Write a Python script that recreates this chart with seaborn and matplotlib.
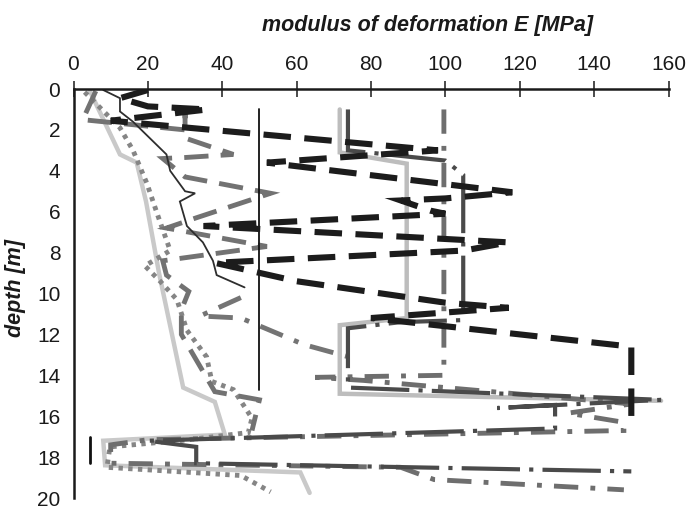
import matplotlib
matplotlib.use("Agg")
import matplotlib.pyplot as plt
import seaborn as sns

# values: E [MPa] vs depth [m]
thin_black_E = [8, 12.5, 12.5, 16, 20.5, 25, 26, 30, 32.7, 28.6, 30.5, 34.8, 37.5, 38.5, 46]
thin_black_d = [0.05, 0.45, 1.1, 1.6, 2.4, 3.2, 4.0, 5.0, 5.1, 5.5, 6.7, 7.5, 8.4, 9.1, 9.7]

light_left_E = [4.4, 12.5, 17, 19.5, 23, 29.5, 38, 40.7, 8, 8.5, 61, 63.5]
light_left_d = [0.1, 3.2, 3.6, 5.5, 9.0, 14.6, 15.3, 16.9, 17.2, 18.4, 18.75, 19.75]

dotted_E = [3, 12.5, 16, 19.7, 22.7, 26, 19.2, 23.3, 27.8, 30.5, 35.8, 37.2, 43, 48, 47, 31, 9.8, 9, 45, 53]
dotted_d = [0.15, 1.9, 3.0, 4.6, 6.2, 7.9, 8.65, 9.4, 10.3, 11.8, 13.1, 14.3, 14.7, 16.1, 16.8, 17.15, 17.5, 18.5, 18.9, 19.7]

vline_E = [50, 50]
vline_d = [1.0, 14.7]
short_E = [4.4, 4.4]
short_d = [17.0, 18.3]

black_E = [20, 12.5, 20, 36, 10, 98, 52, 118, 100, 88, 96, 100, 35, 117, 105, 38, 60, 100, 117, 80, 150, 150]
black_d = [0.05, 0.45, 0.85, 1.0, 1.55, 3.0, 3.6, 5.05, 5.35, 5.45, 5.95, 6.1, 6.7, 7.5, 7.9, 8.5, 9.4, 10.45, 10.7, 11.2, 12.6, 16.5]

light_right_E = [71.6, 71.6, 89.6, 89.6, 71.6, 71.6, 158]
light_right_d = [1.0, 3.1, 3.65, 11.2, 11.55, 14.9, 15.25]

dark_E = [73.8, 73.8, 100, 104.8, 104.8, 88, 73.8, 73.8, 158, 114, 129.5, 129.5, 20, 33, 33, 150]
dark_d = [1.0, 3.0, 3.5, 4.2, 11.3, 11.4, 11.7, 14.6, 15.2, 15.6, 15.45, 16.6, 17.2, 17.5, 18.3, 18.7]

gray_left_E = [6, 2.5, 30, 30, 30, 43, 30, 24, 30, 53, 33, 25, 52, 24, 25, 31, 29, 29, 38, 50, 48]
gray_left_d = [0.1, 1.5, 2.0, 1.1, 2.4, 3.2, 3.35, 3.4, 4.3, 5.1, 6.3, 6.8, 7.7, 8.4, 9.1, 9.9, 10.8, 12.0, 14.8, 15.2, 16.7]

dashdot_mid_E = [45, 34, 45, 62, 74]
dashdot_mid_d = [10.2, 11.1, 11.2, 12.5, 13.1]

dashdot_right_E = [99.6, 99.6, 65, 78, 150, 133, 148, 148, 20, 10, 10, 88, 97, 148]
dashdot_right_d = [1.0, 14.0, 14.1, 14.25, 15.4, 15.85, 16.3, 16.7, 17.15, 17.4, 18.3, 18.5, 19.1, 19.6]

sns.set_style("white")
plt.rcParams["font.family"] = ["Liberation Sans", "DejaVu Sans"]

fig = plt.figure(figsize=(6.89, 5.11), dpi=100)
ax = fig.add_axes([73.5 / 689, 1 - 498 / 511, 595 / 689, 409 / 511])


def draw(e, d, color, lw, ls="-"):
    sns.lineplot(x=e, y=d, sort=False, estimator=None, color=color,
                 linewidth=lw, linestyle=ls, ax=ax)
    ln = ax.lines[-1]
    ln.set_solid_joinstyle("miter")
    ln.set_dash_joinstyle("miter")
    ln.set_dash_capstyle("butt")


draw(light_left_E, light_left_d, "#c9c9c9", 3.2)
draw(light_right_E, light_right_d, "#bdbdbd", 3.2)
draw(dotted_E, dotted_d, "#858585", 3.5, (0, (0.9, 1.1)))
draw(gray_left_E, gray_left_d, "#727272", 3.5, (0, (5, 2.5)))
draw(dashdot_mid_E, dashdot_mid_d, "#747474", 3.5, (0, (5, 2.5, 1, 2.5)))
draw(dashdot_right_E, dashdot_right_d, "#6e6e6e", 3.5, (0, (5, 2.5, 1, 2.5)))
draw(dark_E, dark_d, "#4a4a4a", 3.0, (0, (14, 2.2, 1, 2.2)))
draw(thin_black_E, thin_black_d, "#2e2e2e", 1.3)
draw(vline_E, vline_d, "#111111", 1.3)
draw(short_E, short_d, "#111111", 2.0)
draw(black_E, black_d, "#1c1c1c", 4.4, (0, (4.5, 2.2)))

ax.set_xlim(0, 160)
ax.set_ylim(20, 0)
ax.set_xticks(range(0, 161, 20))
ax.set_yticks(range(0, 21, 2))
ax.xaxis.tick_top()
ax.set_xlabel("")
ax.set_ylabel("")
for side in ["right", "bottom"]:
    ax.spines[side].set_visible(False)
for side in ["left", "top"]:
    ax.spines[side].set_color("#1a1a1a")
    ax.spines[side].set_linewidth(1.8)
ax.tick_params(axis="both", direction="inout", length=11, width=1.1,
               color="#1a1a1a", labelsize=15, labelcolor="#1a1a1a")
ax.tick_params(axis="x", pad=5)
ax.tick_params(axis="y", pad=4)

fig.text(428 / 689, 1 - 25 / 511, "modulus of deformation E [MPa]",
         ha="center", va="center", fontsize=15.5, fontweight="bold",
         fontstyle="italic", color="#1a1a1a")
fig.text(16 / 689, 1 - 288 / 511, "depth [m]", rotation=90,
         ha="center", va="center", fontsize=15.5, fontweight="bold",
         fontstyle="italic", color="#1a1a1a")

fig.savefig("out.png", dpi=100)
